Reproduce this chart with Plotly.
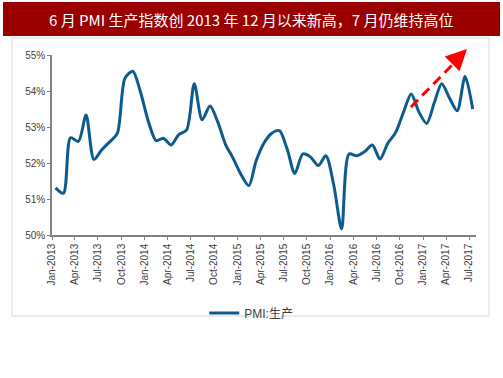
import plotly.graph_objects as go
import pandas as pd

# ---- data ----
start_month = "2013-01-01"
n_months = 55
pmi_values = [
    51.31, 51.16, 52.70, 52.60, 53.33, 52.10, 52.36, 52.58, 52.82, 54.35,
    54.55, 53.98, 53.16, 52.62, 52.69, 52.50, 52.79, 52.92, 54.20, 53.20,
    53.58, 53.15, 52.52, 52.13, 51.68, 51.37, 52.05, 52.55, 52.82, 52.90,
    52.40, 51.71, 52.25, 52.17, 51.93, 52.20, 51.39, 50.17, 52.25, 52.20,
    52.31, 52.50, 52.11, 52.55, 52.85, 53.40, 53.92, 53.42, 53.10, 53.70,
    54.20, 53.80, 53.45, 54.40, 53.50,
]
series_name = "PMI:生产"
tick_dates = pd.date_range("2013-01-01", "2017-07-01", freq="3MS")
y_ticks = [50, 51, 52, 53, 54, 55]
y_tick_text = [f"{v}%" for v in y_ticks]
title_text = "6 月 PMI 生产指数创 2013 年 12 月以来新高，7 月仍维持高位"

dates = pd.date_range(start_month, periods=n_months, freq="MS") + pd.Timedelta(days=14)

# ---- layout geometry (pixels) ----
W, H = 503, 378
L, R, T, B = 52, 27, 55, 143
pw, ph = W - L - R, H - T - B


def px_x(p):
    return (p - L) / pw


def px_y(p):
    return (H - B - p) / ph


fig = go.Figure()
fig.add_trace(go.Scatter(
    x=dates, y=pmi_values, mode="lines", name=series_name,
    line=dict(color="#0d5b8e", width=3, shape="spline", smoothing=0.8),
))

fig.update_layout(
    width=W, height=H,
    margin=dict(l=L, r=R, t=T, b=B, autoexpand=False),
    paper_bgcolor="white", plot_bgcolor="white",
    font=dict(family="Liberation Sans, Arial, sans-serif", color="#404040"),
    showlegend=True,
    legend=dict(orientation="h", x=0.47, xanchor="center", y=px_y(313), yanchor="middle",
                font=dict(size=12, family="Liberation Sans, Noto Sans CJK SC, sans-serif", color="#404040"),
                bgcolor="rgba(0,0,0,0)"),
    xaxis=dict(
        type="date", range=["2013-01-01", "2017-07-28"],
        tickvals=tick_dates, tickformat="%b-%Y", tickangle=-90,
        tickfont=dict(size=10, color="#404040"),
        showgrid=False, zeroline=False,
        showline=True, linecolor="#808080", linewidth=1.5,
        ticks="outside", ticklen=3, tickcolor="#808080",
    ),
    yaxis=dict(
        range=[50, 55], tickvals=y_ticks, ticktext=y_tick_text,
        tickfont=dict(size=10, color="#404040"),
        showgrid=False, zeroline=False,
        showline=True, linecolor="#808080", linewidth=1.5,
        ticks="outside", ticklen=3, tickcolor="#808080",
    ),
)

shapes = [
    # outer light border
    dict(type="rect", xref="paper", yref="paper",
         x0=px_x(12), x1=px_x(489), y0=px_y(316), y1=px_y(38),
         line=dict(color="#d9d9d9", width=1), fillcolor="rgba(0,0,0,0)", layer="below"),
    # title bar
    dict(type="rect", xref="paper", yref="paper",
         x0=px_x(3), x1=px_x(500), y0=px_y(36), y1=px_y(2),
         line=dict(width=0), fillcolor="#9a0000", layer="below"),
    # dashed red trend arrow body
    dict(type="line", xref="paper", yref="paper",
         x0=px_x(411), y0=px_y(107), x1=px_x(457), y1=px_y(60),
         line=dict(color="#ff0000", width=3, dash="10px,6px")),
]
fig.update_layout(shapes=shapes)

fig.add_annotation(
    xref="paper", yref="paper", x=px_x(251), y=px_y(19),
    text=title_text, showarrow=False,
    font=dict(size=15, color="white", family="Noto Sans CJK SC, sans-serif"),
    xanchor="center", yanchor="middle",
)
fig.add_annotation(
    xref="paper", yref="paper", x=px_x(467), y=px_y(49),
    ax=-12, ay=12, axref="pixel", ayref="pixel",
    text="", showarrow=True, arrowhead=2, arrowsize=1.4, arrowwidth=3,
    arrowcolor="#ff0000", standoff=0,
)

fig.write_html(
    "out.html",
    config={"displayModeBar": False},
    post_script="document.body.style.margin='0';document.body.style.padding='0';document.body.style.overflow='hidden';",
)
